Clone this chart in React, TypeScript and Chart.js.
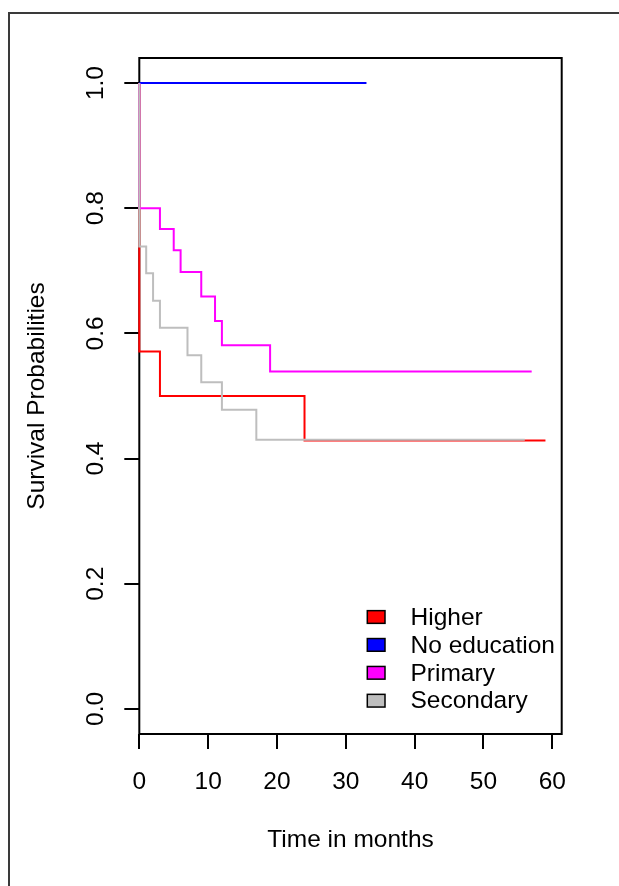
import { useEffect, useRef } from "react";
import { Chart, registerables } from "chart.js";

Chart.register(...registerables);

// Kaplan-Meier survival estimates by education level
const groupNames = ["Higher", "No education", "Primary", "Secondary"];
const groupColors = ["#FF0000", "#0000FF", "#FF00FF", "#BEBEBE"];

const higherTime = [0, 0, 3, 24, 59];
const higherSurv = [1, 0.571, 0.5, 0.429, 0.429];

const noEducationTime = [0, 33];
const noEducationSurv = [1, 1];

const primaryTime = [0, 0, 3, 5, 6, 9, 11, 12, 19, 57];
const primarySurv = [1, 0.8, 0.767, 0.733, 0.698, 0.659, 0.62, 0.581, 0.539, 0.539];

const secondaryTime = [0, 0, 1, 2, 3, 7, 9, 12, 17, 56];
const secondarySurv = [1, 0.739, 0.696, 0.652, 0.609, 0.565, 0.522, 0.478, 0.43, 0.43];

const xTicks = [0, 10, 20, 30, 40, 50, 60];
const yTicks = [0, 0.2, 0.4, 0.6, 0.8, 1.0];

const xLabel = "Time in months";
const yLabel = "Survival Probabilities";

const FONT = "'Liberation Sans', Arial, Helvetica, sans-serif";
const FONT_SIZE = 24.5;

const toPoints = (t: number[], s: number[]) => t.map((x, i) => ({ x, y: s[i] }));

const seriesTimes = [higherTime, noEducationTime, primaryTime, secondaryTime];
const seriesSurv = [higherSurv, noEducationSurv, primarySurv, secondarySurv];

// Outer frame, plot box and the in-plot legend
const decorations = {
  id: "decorations",
  beforeDraw(chart: any) {
    const { ctx, width, height } = chart;
    ctx.save();
    ctx.fillStyle = "#ffffff";
    ctx.fillRect(0, 0, width, height);
    ctx.strokeStyle = "#3a3a3a";
    ctx.lineWidth = 2;
    ctx.beginPath();
    ctx.moveTo(9, height);
    ctx.lineTo(9, 13);
    ctx.lineTo(width, 13);
    ctx.stroke();
    ctx.restore();
  },
  beforeDatasetsDraw(chart: any) {
    const { ctx, chartArea } = chart;
    ctx.save();
    ctx.strokeStyle = "#000000";
    ctx.lineWidth = 2;
    ctx.strokeRect(
      chartArea.left,
      chartArea.top,
      chartArea.right - chartArea.left,
      chartArea.bottom - chartArea.top
    );
    ctx.restore();
  },
  afterDraw(chart: any) {
    const { ctx, chartArea } = chart;
    ctx.save();
    const boxLeft = chartArea.right - 194.4;
    const boxW = 17.7;
    const boxH = 12.7;
    const firstY = chartArea.bottom - 117;
    const rowGap = 27.9;
    ctx.font = `${FONT_SIZE}px ${FONT}`;
    ctx.textBaseline = "middle";
    ctx.textAlign = "left";
    groupNames.forEach((name, i) => {
      const cy = firstY + i * rowGap;
      ctx.fillStyle = groupColors[i];
      ctx.fillRect(boxLeft, cy - boxH / 2, boxW, boxH);
      ctx.strokeStyle = "#000000";
      ctx.lineWidth = 1.5;
      ctx.strokeRect(boxLeft, cy - boxH / 2, boxW, boxH);
      ctx.fillStyle = "#000000";
      ctx.fillText(name, boxLeft + 43.2, cy + 1);
    });
    ctx.restore();
  },
};

export default function App() {
  const canvasRef = useRef<HTMLCanvasElement | null>(null);

  useEffect(() => {
    if (!canvasRef.current) return;
    const datasets = groupNames.map((name, i) => ({
      label: name,
      data: toPoints(seriesTimes[i], seriesSurv[i]),
      borderColor: groupColors[i],
      backgroundColor: groupColors[i],
      borderWidth: 2,
      pointRadius: 0,
      fill: false,
      stepped: "before" as const,
      tension: 0,
      clip: false as any,
      order: groupNames.length - i,
    }));

    const chart = new Chart(canvasRef.current, {
      type: "line",
      data: { datasets },
      plugins: [decorations],
      options: {
        responsive: false,
        animation: false,
        events: [],
        layout: { padding: { left: 0, top: 58, right: 57.3, bottom: 0 } },
        plugins: {
          legend: { display: false },
          tooltip: { enabled: false },
        },
        scales: {
          x: {
            type: "linear",
            min: 0,
            max: 61.36,
            afterFit: (scale: any) => {
              scale.height = 152;
            },
            afterBuildTicks: (scale: any) => {
              scale.ticks = xTicks.map((value) => ({ value }));
            },
            grid: {
              drawOnChartArea: false,
              drawTicks: true,
              tickLength: 15,
              color: "#000000",
              lineWidth: 2,
            },
            border: { display: false },
            ticks: {
              color: "#000000",
              font: { family: FONT, size: FONT_SIZE },
              padding: 19,
              maxRotation: 0,
              autoSkip: false,
              callback: (v: any) => String(v),
            },
            title: {
              display: true,
              text: xLabel,
              color: "#000000",
              font: { family: FONT, size: FONT_SIZE },
              padding: { top: 0, bottom: 31 },
            },
          },
          y: {
            type: "linear",
            min: -0.04,
            max: 1.04,
            afterFit: (scale: any) => {
              scale.width = 139.3;
            },
            afterBuildTicks: (scale: any) => {
              scale.ticks = yTicks.map((value) => ({ value }));
            },
            grid: {
              drawOnChartArea: false,
              drawTicks: true,
              tickLength: 15,
              color: "#000000",
              lineWidth: 2,
            },
            border: { display: false },
            ticks: {
              color: "#000000",
              font: { family: FONT, size: FONT_SIZE },
              padding: 11,
              minRotation: 90,
              maxRotation: 90,
              crossAlign: "center",
              autoSkip: false,
              callback: (v: any) => Number(v).toFixed(1),
            },
            title: {
              display: true,
              text: yLabel,
              color: "#000000",
              font: { family: FONT, size: FONT_SIZE },
              padding: { top: 23, bottom: 0 },
            },
          },
        },
      },
    });
    return () => chart.destroy();
  }, []);

  return (
    <div style={{ position: "absolute", left: 0, top: 0, width: 619, height: 886 }}>
      <canvas ref={canvasRef} width={619} height={886} style={{ display: "block" }} />
    </div>
  );
}
